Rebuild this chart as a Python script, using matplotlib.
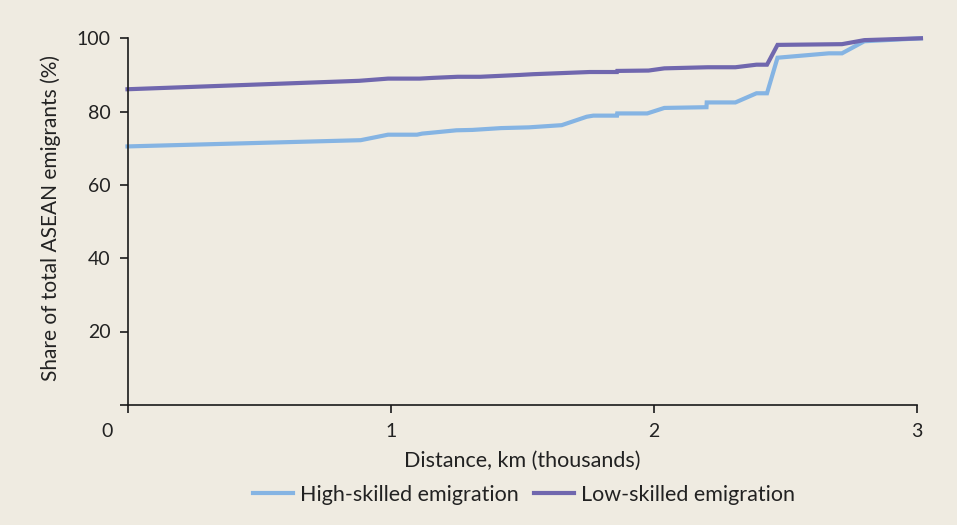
import matplotlib
matplotlib.use("Agg")
import matplotlib.pyplot as plt
from matplotlib.transforms import ScaledTranslation

plt.rcParams['font.family'] = ['Lato', 'DejaVu Sans']

# Data (distance in thousands of km, cumulative share %)
high_x = [0.0, 0.886, 0.99, 1.10, 1.12, 1.15, 1.25, 1.31, 1.42, 1.525, 1.65,
          1.745, 1.77, 1.86, 1.861, 1.975, 2.04, 2.20, 2.201, 2.31, 2.39, 2.43,
          2.47, 2.665, 2.715, 2.80, 3.015]
high_y = [70.5, 72.2, 73.7, 73.7, 74.0, 74.2, 74.9, 75.0, 75.5, 75.7, 76.3,
          78.6, 78.9, 78.9, 79.5, 79.5, 81.0, 81.2, 82.5, 82.5, 85.0, 85.0,
          94.7, 95.9, 95.9, 99.2, 100.0]

low_x = [0.0, 0.88, 0.99, 1.11, 1.16, 1.255, 1.34, 1.49, 1.54, 1.756, 1.86,
         1.861, 1.98, 2.04, 2.205, 2.31, 2.39, 2.43, 2.47, 2.715, 2.80, 3.015]
low_y = [86.1, 88.4, 89.0, 89.0, 89.2, 89.5, 89.5, 90.0, 90.2, 90.8, 90.8,
         91.1, 91.2, 91.8, 92.1, 92.1, 92.8, 92.8, 98.2, 98.4, 99.5, 100.0]

x_ticks = [0, 1, 2, 3]
x_tick_labels = ['0', '1', '2', '3']
y_ticks = [0, 20, 40, 60, 80, 100]
y_tick_labels = ['', '20', '40', '60', '80', '100']

series_labels = ['High-skilled emigration', 'Low-skilled emigration']
colors = ['#85B4E3', '#7067AE']
bg = '#EFEBE1'

fig = plt.figure(figsize=(9.57, 5.25), dpi=100, facecolor=bg)
ax = fig.add_axes([127.5 / 957, 1 - 404.8 / 525, (917 - 127.5) / 957, (404.8 - 38.3) / 525])
ax.set_facecolor(bg)

ax.plot(high_x, high_y, color=colors[0], lw=3.0, label=series_labels[0],
        clip_on=False, solid_joinstyle='miter')
ax.plot(low_x, low_y, color=colors[1], lw=3.0, label=series_labels[1],
        clip_on=False, solid_joinstyle='miter')

ax.set_xlim(0, 3)
ax.set_ylim(0, 100)
ax.set_xticks(x_ticks)
ax.set_xticklabels(x_tick_labels)
ax.set_yticks(y_ticks)
ax.set_yticklabels(y_tick_labels)

for s in ['top', 'right']:
    ax.spines[s].set_visible(False)
for s in ['left', 'bottom']:
    ax.spines[s].set_color('#1a1a1a')
    ax.spines[s].set_linewidth(1.2)

ax.tick_params(axis='both', direction='out', length=6, width=1.2, color='#1a1a1a',
               labelsize=14, labelcolor='#222222')
ax.tick_params(axis='y', pad=6)
ax.tick_params(axis='x', pad=7)

# shift the origin "0" label left
lbl0 = ax.get_xticklabels()[0]
lbl0.set_transform(lbl0.get_transform() + ScaledTranslation(-0.2, 0, fig.dpi_scale_trans))

ax.set_xlabel('Distance, km (thousands)', fontsize=15.5, color='#222222', labelpad=8)
ax.set_ylabel('Share of total ASEAN emigrants (%)', fontsize=15, color='#222222')
ax.yaxis.set_label_coords(-0.084, 0.51)

leg = fig.legend(loc='center', bbox_to_anchor=(524 / 957, 1 - 495 / 525), ncol=2,
                 frameon=False, fontsize=15.5, handlelength=1.85, columnspacing=0.7,
                 handletextpad=0.35)
for t in leg.get_texts():
    t.set_color('#222222')

fig.savefig('out.png', dpi=100, facecolor=bg)
